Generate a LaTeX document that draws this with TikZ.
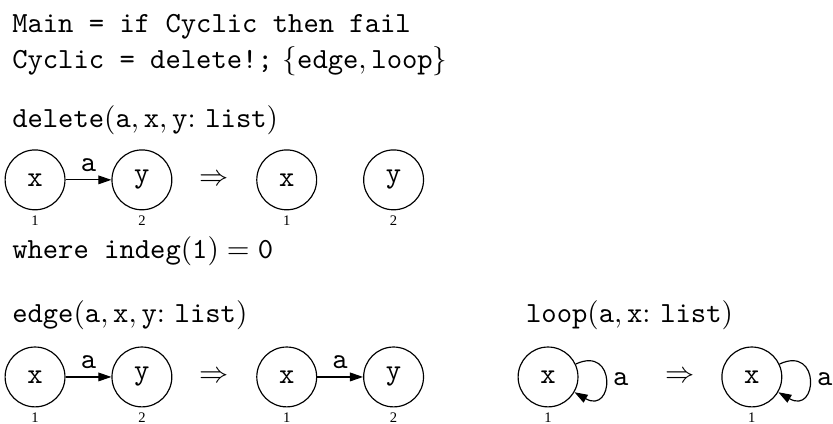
\documentclass[tikz,border=0pt]{standalone}
\usepackage{amsmath,amssymb}
\usepackage{fontspec}
\newfontfamily\tagserif{Liberation Serif}
\usetikzlibrary{arrows.meta,positioning}

\begin{document}
\begin{tikzpicture}[
    node distance=15.7pt,
    rule/.style={anchor=base west, inner sep=0pt},
    gnode/.style={circle, draw, minimum size=20.5pt, inner sep=0pt, font=\fontsize{10}{11}\selectfont\ttfamily},
    tag/.style={inner sep=0pt, font=\fontsize{5}{6}\selectfont\tagserif},
    lbl/.style={inner sep=2.5pt, font=\fontsize{10}{11}\selectfont\ttfamily},
    impl/.style={inner sep=0pt},
    arrow/.style={-{Triangle[length=4.5pt,width=3pt]}}
]
\useasboundingbox (0,0) rectangle (285.3pt,-145.2pt);

% program text
\node[rule] (main) at (4pt,-11pt) {\texttt{Main = if Cyclic then fail}};
\node[rule] (cyclic) at (4pt,-23.3pt) {\texttt{Cyclic = delete!;} $\{\mathtt{edge},\mathtt{loop}\}$};

% rule delete
\node[rule] (delhead) at (4pt,-43.5pt) {\texttt{delete}$(\mathtt{a},\mathtt{x},\mathtt{y}\mathtt{:}\ \mathtt{list})$};
\node[gnode] (dx) at (12pt,-61.6pt) {x};
\node[gnode, right=of dx] (dy) {y};
\node[impl, right=9pt of dy] (dto) {$\Rightarrow$};
\node[gnode, right=9.3pt of dto] (dx2) {x};
\node[gnode, right=of dx2] (dy2) {y};
\node[tag, below=1.8pt of dx] (dxi) {1};
\node[tag, below=1.8pt of dy] (dyi) {2};
\node[tag, below=1.8pt of dx2] (dx2i) {1};
\node[tag, below=1.8pt of dy2] (dy2i) {2};
\node[rule] (where) at (4pt,-88.4pt) {\texttt{where indeg}$(\mathtt{1}) = \mathtt{0}$};

% rule edge
\node[rule] (edghead) at (4pt,-110.3pt) {\texttt{edge}$(\mathtt{a},\mathtt{x},\mathtt{y}\mathtt{:}\ \mathtt{list})$};
\node[gnode] (ex) at (12pt,-129.1pt) {x};
\node[gnode, right=of ex] (ey) {y};
\node[impl, right=9pt of ey] (eto) {$\Rightarrow$};
\node[gnode, right=9.3pt of eto] (ex2) {x};
\node[gnode, right=of ex2] (ey2) {y};
\node[tag, below=1.8pt of ex] (exi) {1};
\node[tag, below=1.8pt of ey] (eyi) {2};
\node[tag, below=1.8pt of ex2] (ex2i) {1};
\node[tag, below=1.8pt of ey2] (ey2i) {2};

% rule loop
\node[rule] (loophead) at (180pt,-110.3pt) {\texttt{loop}$(\mathtt{a},\mathtt{x}\mathtt{:}\ \mathtt{list})$};
\node[gnode] (lx) at (187.7pt,-129.1pt) {x};
\node[impl] (lto) at (232.9pt,-129.1pt) {$\Rightarrow$};
\node[gnode] (lx2) at (257.5pt,-129.1pt) {x};
\node[tag, below=1.8pt of lx] (lxi) {1};
\node[tag, below=1.8pt of lx2] (lx2i) {1};

\draw[arrow] (dx) -- node[lbl, above] (da) {a} (dy);
\draw[arrow] (ex) -- node[lbl, above] (ea) {a} (ey);
\draw[arrow] (ex2) -- node[lbl, above] (ea2) {a} (ey2);
\draw[arrow] (lx.25) .. controls +(25:15.6pt) and +(-30:15.6pt) .. node[lbl, right] (la) {a} (lx.-30);
\draw[arrow] (lx2.25) .. controls +(25:15.6pt) and +(-30:15.6pt) .. node[lbl, right] (la2) {a} (lx2.-30);
\end{tikzpicture}
\end{document}
